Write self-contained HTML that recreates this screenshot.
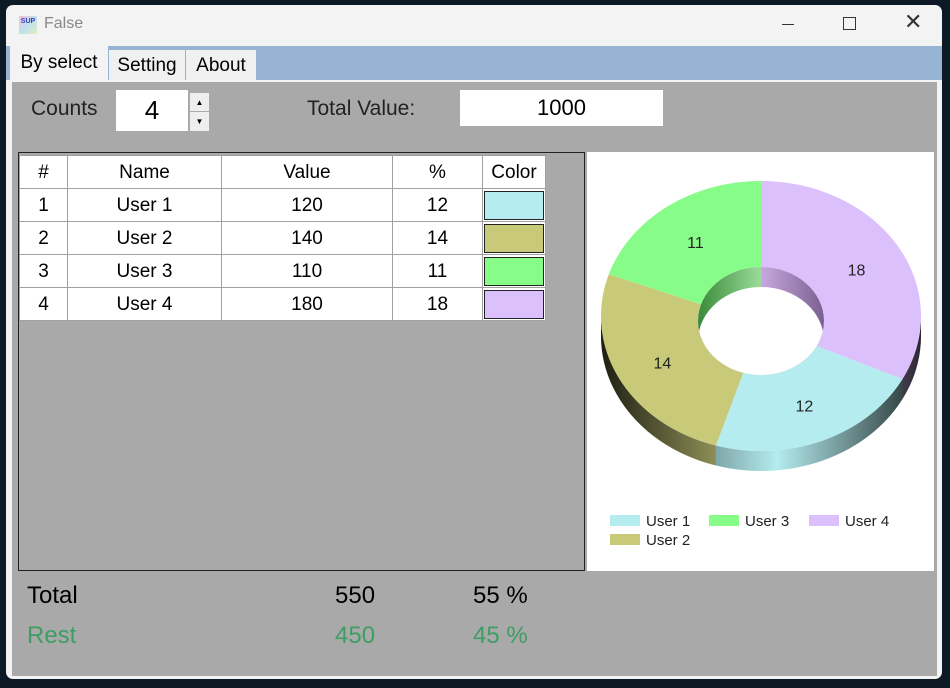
<!DOCTYPE html>
<html><head><meta charset="utf-8"><style>
body{margin:0;width:950px;height:688px;overflow:hidden;background:#0d1a26;font-family:"Liberation Sans",sans-serif;position:relative}
.abs{position:absolute}
#win{left:6px;top:5px;width:936px;height:674px;background:#f3f3f3;border-radius:7px;overflow:hidden}
td,th{border:1px solid #a0a0a0;font-weight:normal;padding:0;text-align:center;font-size:19px;height:31px;padding-top:1px}
table{border-collapse:collapse;background:#fff;margin-top:2px}
</style></head><body>
<div id="win" class="abs">
 <div class="abs" style="left:0;top:0;width:936px;height:40px">
  <div class="abs" style="left:13px;top:11px;width:18px;height:18px;background:linear-gradient(135deg,#f5c0d0,#c0e0f0,#e0f0c0);font-size:7px;font-weight:bold;color:#3040c0;text-align:center;line-height:12px">SUP</div>
  <div class="abs" style="left:38px;top:10px;font-size:16px;color:#888">False</div>
  <div class="abs" style="left:776px;top:19px;width:12px;height:1px;background:#333"></div>
  <div class="abs" style="left:837px;top:12px;width:11px;height:11px;border:1px solid #333"></div>
  <div class="abs" style="left:898px;top:4px;font-size:22px;color:#333">✕</div>
 </div>
 <div class="abs" style="left:0;top:41px;width:936px;height:34px;background:#98b4d4"></div>
 <div class="abs" style="left:4px;top:41px;width:98px;height:36px;background:#f3f3f3;font-size:19px;line-height:34px;text-align:center">By select</div>
 <div class="abs" style="left:103px;top:45px;width:76px;height:30px;background:#f0f0f0;font-size:19px;line-height:32px;text-align:center">Setting</div>
 <div class="abs" style="left:180px;top:45px;width:70px;height:30px;background:#f0f0f0;font-size:19px;line-height:32px;text-align:center">About</div>
 <div class="abs" style="left:6px;top:77px;width:925px;height:594px;background:#a9a9a9"></div>
 <div class="abs" style="left:25px;top:92px;font-size:21px;color:#222">Counts</div>
 <div class="abs" style="left:110px;top:85px;width:72px;height:41px;background:#fff;font-size:26px;line-height:41px;text-align:center">4</div>
 <div class="abs" style="left:183px;top:87px;width:19px;height:19px;background:#eee;border:1px solid #aaa;font-size:8px;text-align:center;line-height:19px">▲</div>
 <div class="abs" style="left:183px;top:106px;width:19px;height:19px;background:#eee;border:1px solid #aaa;font-size:8px;text-align:center;line-height:19px">▼</div>
 <div class="abs" style="left:301px;top:92px;font-size:21px;color:#222">Total Value:</div>
 <div class="abs" style="left:454px;top:85px;width:203px;height:36px;background:#fff;font-size:22px;line-height:36px;text-align:center">1000</div>
 <div class="abs" style="left:12px;top:147px;width:565px;height:417px;border:1px solid #222;background:#a9a9a9">
  <table>
   <tr><th style="width:47px">#</th><th style="width:153px">Name</th><th style="width:170px">Value</th><th style="width:89px">%</th><th style="width:62px">Color</th></tr>
   <tr><td>1</td><td>User 1</td><td>120</td><td>12</td><td><div style="margin:auto;width:58px;height:27px;border:1px solid #222;background:#b4ecef"></div></td></tr>
   <tr><td>2</td><td>User 2</td><td>140</td><td>14</td><td><div style="margin:auto;width:58px;height:27px;border:1px solid #222;background:#c8ca7a"></div></td></tr>
   <tr><td>3</td><td>User 3</td><td>110</td><td>11</td><td><div style="margin:auto;width:58px;height:27px;border:1px solid #222;background:#88fc88"></div></td></tr>
   <tr><td>4</td><td>User 4</td><td>180</td><td>18</td><td><div style="margin:auto;width:58px;height:27px;border:1px solid #222;background:#dcc0fc"></div></td></tr>
  </table>
 </div>
 <svg class="abs" id="chart" style="left:581px;top:147px" width="347" height="419"></svg>
 <div class="abs" style="left:21px;top:577px;font-size:24px">Total</div>
 <div class="abs" style="left:329px;top:577px;font-size:24px">550</div>
 <div class="abs" style="left:467px;top:577px;font-size:24px">55 %</div>
 <div class="abs" style="left:21px;top:617px;font-size:24px;color:#3d9e63">Rest</div>
 <div class="abs" style="left:329px;top:617px;font-size:24px;color:#3d9e63">450</div>
 <div class="abs" style="left:467px;top:617px;font-size:24px;color:#3d9e63">45 %</div>
</div>
<script>
const names=["User 4","User 1","User 2","User 3"];
const values=[18,12,14,11];
const colors=["#dcc0fc","#b4ecef","#c8ca7a","#88fc88"];
const legendOrder=["User 1","User 3","User 4","User 2"];
const legendColors=["#b4ecef","#88fc88","#dcc0fc","#c8ca7a"];
const NS="http://www.w3.org/2000/svg";
const svg=document.getElementById('chart');
svg.innerHTML='<rect width="347" height="419" fill="#fff"/><defs><linearGradient id="shade" x1="0" x2="1"><stop offset="0" stop-color="#000" stop-opacity="0.85"/><stop offset="0.55" stop-color="#000" stop-opacity="0"/><stop offset="1" stop-color="#000" stop-opacity="0.8"/></linearGradient><linearGradient id="wall" x1="0" x2="1"><stop offset="0" stop-color="#3a8a3a"/><stop offset="0.5" stop-color="#9adc9a"/><stop offset="0.5" stop-color="#c8a8e0"/><stop offset="1" stop-color="#7a6090"/></linearGradient><clipPath id="hc"><ellipse cx="174" cy="169" rx="63" ry="54"/></clipPath></defs>';
const cx=174,cy=164,rx=160,ry=135,irx=63,iry=54,icy=169,d=20;
const total=values.reduce((a,b)=>a+b,0);
function P(t,RX,RY,CY){return [cx+RX*Math.sin(t),CY-RY*Math.cos(t)];}
function mk(tag,attrs){const e=document.createElementNS(NS,tag);for(const k in attrs)e.setAttribute(k,attrs[k]);svg.appendChild(e);return e;}
let a=0;const sl=[];
values.forEach((v,i)=>{const b=a+v/total*2*Math.PI;sl.push([a,b]);a=b;});
sl.forEach(([s,e],i)=>{
 const s2=Math.max(s,Math.PI/2),e2=Math.min(e,1.5*Math.PI);
 if(e2<=s2)return;
 let pts=[];const n=30;
 for(let k=0;k<=n;k++){pts.push(P(s2+(e2-s2)*k/n,rx,ry,cy));}
 for(let k=n;k>=0;k--){const p=P(s2+(e2-s2)*k/n,rx,ry,cy);pts.push([p[0],p[1]+d]);}
 const str=pts.map(p=>p.join(',')).join(' ');
 const sd=mk('polygon',{points:str,fill:colors[i]});
 
 
});
const ov=mk('path',{d:`M${cx-rx},${cy} A${rx},${ry} 0 0 0 ${cx+rx},${cy} L${cx+rx},${cy+d} A${rx},${ry} 0 0 1 ${cx-rx},${cy+d} Z`,fill:'url(#shade)'});


sl.forEach(([s,e],i)=>{
 const n=40;let pts=[];
 for(let k=0;k<=n;k++)pts.push(P(s+(e-s)*k/n,rx,ry,cy));
 for(let k=n;k>=0;k--)pts.push(P(s+(e-s)*k/n,irx,iry,icy));
 const el=mk('polygon',{points:pts.map(p=>p.join(',')).join(' '),fill:colors[i]});
 
 
 const m=(s+e)/2;const lp=P(m,(rx+irx)/2,(ry+iry)/2,(cy+icy)/2);
 const t=mk('text',{x:lp[0],y:lp[1]+6,'text-anchor':'middle','font-size':'16','font-family':'Liberation Sans, sans-serif',fill:'#222'});
 t.textContent=values[i];
 
 
});
const hw=mk('ellipse',{cx:cx,cy:icy,rx:irx,ry:iry,fill:'url(#wall)'});


const hole=mk('ellipse',{cx:cx,cy:icy+d,rx:irx,ry:iry,fill:'#fff','clip-path':'url(#hc)'});


const lpos=[[23,369],[122,369],[222,369],[23,388]];
legendOrder.forEach((nm,i)=>{
 const [x,y]=lpos[i];
 const r=mk('rect',{x:x,y:y-6,width:30,height:11,fill:legendColors[i]});
 
 
 const t=mk('text',{x:x+36,y:y+5,'font-size':'15','font-family':'Liberation Sans, sans-serif',fill:'#222'});
 t.textContent=nm;
 
 
});
</script>
</body></html>
